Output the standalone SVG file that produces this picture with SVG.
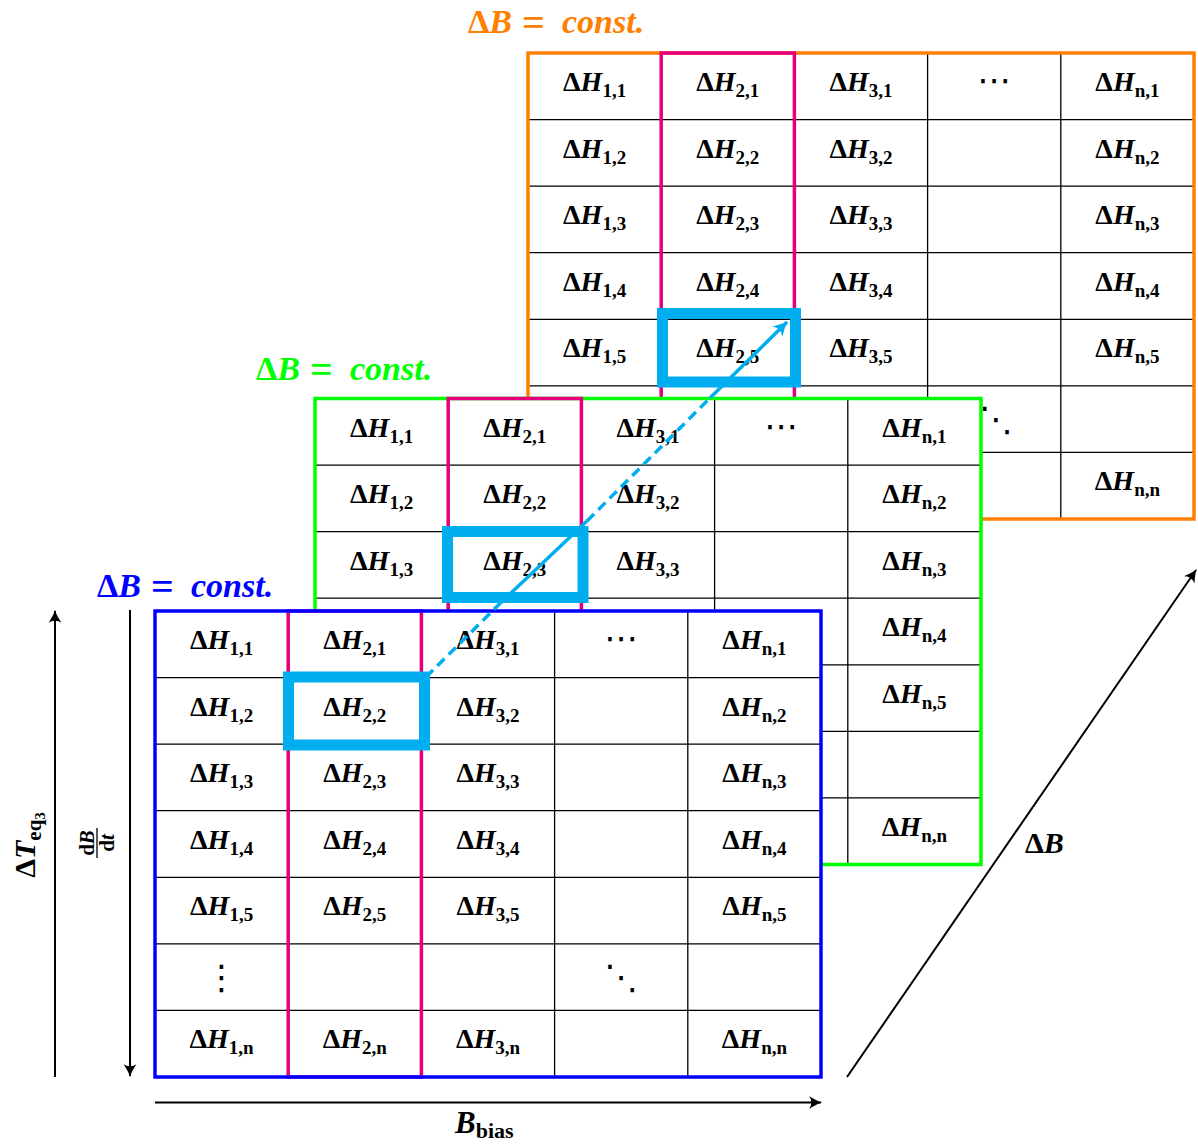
<svg xmlns="http://www.w3.org/2000/svg" width="1198" height="1144" viewBox="0 0 1198 1144">
<style>
.t{font-family:"Liberation Serif","DejaVu Serif",serif;font-weight:bold;font-size:28px;text-anchor:middle;fill:#000}
.i{font-style:italic}
.s{font-size:19px}
.d{font-family:"DejaVu Sans",sans-serif;font-weight:normal;font-size:34px;text-anchor:middle;fill:#000}
.bg{fill:#fff;stroke:none}
.in{stroke:#000;stroke-width:1.3;fill:none}
.mg{stroke:#E4007C;stroke-width:3.5;fill:none}
.hl{stroke:#00AEEF;stroke-width:11;fill:none}
.lb{font-family:"Liberation Serif","DejaVu Serif",serif;font-weight:bold;font-size:33px}
.hd{font-size:34px}
.eq{font-style:normal;font-size:40px}
.ax{stroke:#000;stroke-width:2;fill:none}
.cy{stroke:#00AEEF;stroke-width:3.5;fill:none}
.dash{stroke-dasharray:10 6}
</style>
<defs>
<marker id="ah" viewBox="-13 -7 15 14" refX="0" refY="0" markerWidth="15" markerHeight="14" orient="auto" markerUnits="userSpaceOnUse">
<path d="M1,0 C-3,-1 -8,-4 -12,-6.5 C-9,-3 -9,3 -12,6.5 C-8,4 -3,1 1,0 Z" fill="#000"/>
</marker>
<marker id="ahc" viewBox="-15 -8 17 16" refX="0" refY="0" markerWidth="17" markerHeight="16" orient="auto" markerUnits="userSpaceOnUse">
<path d="M1,0 C-4,-1.5 -9,-4.5 -14,-7.5 C-10,-3 -10,3 -14,7.5 C-9,4.5 -4,1.5 1,0 Z" fill="#00AEEF"/>
</marker>
<g id="lines">
<path class="in" d="M133.2,0V466M266.4,0V466M399.6,0V466M532.8,0V466M0,66.57H666M0,133.14H666M0,199.71H666M0,266.29H666M0,332.86H666M0,399.43H666"/>
</g>
</defs>

<!-- Orange layer -->
<g id="grid-orange" transform="translate(528,53)">
<rect class="bg" x="0" y="0" width="666" height="466"/>
<use href="#lines"/>
<rect x="0" y="0" width="666" height="466" fill="none" stroke="#FF8000" stroke-width="3.5"/>
<rect class="mg" x="133.2" y="0" width="133.2" height="466"/>
<g>
<text class="t" x="66.6" y="38">Δ<tspan class="i">H</tspan><tspan class="s" dy="6">1,1</tspan></text>
<text class="t" x="199.8" y="38">Δ<tspan class="i">H</tspan><tspan class="s" dy="6">2,1</tspan></text>
<text class="t" x="333" y="38">Δ<tspan class="i">H</tspan><tspan class="s" dy="6">3,1</tspan></text>
<text class="d" x="466.2" y="39">⋯</text>
<text class="t" x="599.4" y="38">Δ<tspan class="i">H</tspan><tspan class="s" dy="6">n,1</tspan></text>
<text class="t" x="66.6" y="104.57">Δ<tspan class="i">H</tspan><tspan class="s" dy="6">1,2</tspan></text>
<text class="t" x="199.8" y="104.57">Δ<tspan class="i">H</tspan><tspan class="s" dy="6">2,2</tspan></text>
<text class="t" x="333" y="104.57">Δ<tspan class="i">H</tspan><tspan class="s" dy="6">3,2</tspan></text>
<text class="t" x="599.4" y="104.57">Δ<tspan class="i">H</tspan><tspan class="s" dy="6">n,2</tspan></text>
<text class="t" x="66.6" y="171.14">Δ<tspan class="i">H</tspan><tspan class="s" dy="6">1,3</tspan></text>
<text class="t" x="199.8" y="171.14">Δ<tspan class="i">H</tspan><tspan class="s" dy="6">2,3</tspan></text>
<text class="t" x="333" y="171.14">Δ<tspan class="i">H</tspan><tspan class="s" dy="6">3,3</tspan></text>
<text class="t" x="599.4" y="171.14">Δ<tspan class="i">H</tspan><tspan class="s" dy="6">n,3</tspan></text>
<text class="t" x="66.6" y="237.71">Δ<tspan class="i">H</tspan><tspan class="s" dy="6">1,4</tspan></text>
<text class="t" x="199.8" y="237.71">Δ<tspan class="i">H</tspan><tspan class="s" dy="6">2,4</tspan></text>
<text class="t" x="333" y="237.71">Δ<tspan class="i">H</tspan><tspan class="s" dy="6">3,4</tspan></text>
<text class="t" x="599.4" y="237.71">Δ<tspan class="i">H</tspan><tspan class="s" dy="6">n,4</tspan></text>
<text class="t" x="66.6" y="304.29">Δ<tspan class="i">H</tspan><tspan class="s" dy="6">1,5</tspan></text>
<text class="t" x="199.8" y="304.29">Δ<tspan class="i">H</tspan><tspan class="s" dy="6">2,5</tspan></text>
<text class="t" x="333" y="304.29">Δ<tspan class="i">H</tspan><tspan class="s" dy="6">3,5</tspan></text>
<text class="t" x="599.4" y="304.29">Δ<tspan class="i">H</tspan><tspan class="s" dy="6">n,5</tspan></text>
<text class="d" x="468" y="378">⋱</text>
<text class="t" x="599.4" y="437.43">Δ<tspan class="i">H</tspan><tspan class="s" dy="6">n,n</tspan></text>
</g>
<rect class="hl" x="134.5" y="260.5" width="133" height="68.5"/>
</g>
<g id="label-orange"><text class="lb hd" x="468" y="33" fill="#FF8000">Δ<tspan class="i">B</tspan><tspan class="eq" x="522" y="36">=</tspan><tspan class="i" x="562" y="33">const.</tspan></text></g>

<!-- Green layer -->
<g id="grid-green" transform="translate(315,398.5)">
<rect class="bg" x="0" y="0" width="666" height="466"/>
<use href="#lines"/>
<rect x="0" y="0" width="666" height="466" fill="none" stroke="#00FF00" stroke-width="3.5"/>
<rect class="mg" x="133.2" y="0" width="133.2" height="466"/>
<g>
<text class="t" x="66.6" y="38">Δ<tspan class="i">H</tspan><tspan class="s" dy="6">1,1</tspan></text>
<text class="t" x="199.8" y="38">Δ<tspan class="i">H</tspan><tspan class="s" dy="6">2,1</tspan></text>
<text class="t" x="333" y="38">Δ<tspan class="i">H</tspan><tspan class="s" dy="6">3,1</tspan></text>
<text class="d" x="466.2" y="39">⋯</text>
<text class="t" x="599.4" y="38">Δ<tspan class="i">H</tspan><tspan class="s" dy="6">n,1</tspan></text>
<text class="t" x="66.6" y="104.57">Δ<tspan class="i">H</tspan><tspan class="s" dy="6">1,2</tspan></text>
<text class="t" x="199.8" y="104.57">Δ<tspan class="i">H</tspan><tspan class="s" dy="6">2,2</tspan></text>
<text class="t" x="333" y="104.57">Δ<tspan class="i">H</tspan><tspan class="s" dy="6">3,2</tspan></text>
<text class="t" x="599.4" y="104.57">Δ<tspan class="i">H</tspan><tspan class="s" dy="6">n,2</tspan></text>
<text class="t" x="66.6" y="171.14">Δ<tspan class="i">H</tspan><tspan class="s" dy="6">1,3</tspan></text>
<text class="t" x="199.8" y="171.14">Δ<tspan class="i">H</tspan><tspan class="s" dy="6">2,3</tspan></text>
<text class="t" x="333" y="171.14">Δ<tspan class="i">H</tspan><tspan class="s" dy="6">3,3</tspan></text>
<text class="t" x="599.4" y="171.14">Δ<tspan class="i">H</tspan><tspan class="s" dy="6">n,3</tspan></text>
<text class="t" x="599.4" y="237.71">Δ<tspan class="i">H</tspan><tspan class="s" dy="6">n,4</tspan></text>
<text class="t" x="599.4" y="304.29">Δ<tspan class="i">H</tspan><tspan class="s" dy="6">n,5</tspan></text>
<text class="t" x="599.4" y="437.43">Δ<tspan class="i">H</tspan><tspan class="s" dy="6">n,n</tspan></text>
</g>
<rect class="hl" x="132.5" y="133" width="135.5" height="66"/>
</g>
<g id="label-green"><text class="lb hd" x="256" y="380" fill="#00FF00">Δ<tspan class="i">B</tspan><tspan class="eq" x="310" y="383">=</tspan><tspan class="i" x="350" y="380">const.</tspan></text></g>

<!-- Blue layer -->
<g id="grid-blue" transform="translate(155,611)">
<rect class="bg" x="0" y="0" width="666" height="466"/>
<use href="#lines"/>
<rect class="mg" x="133.2" y="0" width="133.2" height="466"/>
<rect x="0" y="0" width="666" height="466" fill="none" stroke="#0000FF" stroke-width="3.5"/>
<g>
<text class="t" x="66.6" y="38">Δ<tspan class="i">H</tspan><tspan class="s" dy="6">1,1</tspan></text>
<text class="t" x="199.8" y="38">Δ<tspan class="i">H</tspan><tspan class="s" dy="6">2,1</tspan></text>
<text class="t" x="333" y="38">Δ<tspan class="i">H</tspan><tspan class="s" dy="6">3,1</tspan></text>
<text class="d" x="466.2" y="39">⋯</text>
<text class="t" x="599.4" y="38">Δ<tspan class="i">H</tspan><tspan class="s" dy="6">n,1</tspan></text>
<text class="t" x="66.6" y="104.57">Δ<tspan class="i">H</tspan><tspan class="s" dy="6">1,2</tspan></text>
<text class="t" x="199.8" y="104.57">Δ<tspan class="i">H</tspan><tspan class="s" dy="6">2,2</tspan></text>
<text class="t" x="333" y="104.57">Δ<tspan class="i">H</tspan><tspan class="s" dy="6">3,2</tspan></text>
<text class="t" x="599.4" y="104.57">Δ<tspan class="i">H</tspan><tspan class="s" dy="6">n,2</tspan></text>
<text class="t" x="66.6" y="171.14">Δ<tspan class="i">H</tspan><tspan class="s" dy="6">1,3</tspan></text>
<text class="t" x="199.8" y="171.14">Δ<tspan class="i">H</tspan><tspan class="s" dy="6">2,3</tspan></text>
<text class="t" x="333" y="171.14">Δ<tspan class="i">H</tspan><tspan class="s" dy="6">3,3</tspan></text>
<text class="t" x="599.4" y="171.14">Δ<tspan class="i">H</tspan><tspan class="s" dy="6">n,3</tspan></text>
<text class="t" x="66.6" y="237.71">Δ<tspan class="i">H</tspan><tspan class="s" dy="6">1,4</tspan></text>
<text class="t" x="199.8" y="237.71">Δ<tspan class="i">H</tspan><tspan class="s" dy="6">2,4</tspan></text>
<text class="t" x="333" y="237.71">Δ<tspan class="i">H</tspan><tspan class="s" dy="6">3,4</tspan></text>
<text class="t" x="599.4" y="237.71">Δ<tspan class="i">H</tspan><tspan class="s" dy="6">n,4</tspan></text>
<text class="t" x="66.6" y="304.29">Δ<tspan class="i">H</tspan><tspan class="s" dy="6">1,5</tspan></text>
<text class="t" x="199.8" y="304.29">Δ<tspan class="i">H</tspan><tspan class="s" dy="6">2,5</tspan></text>
<text class="t" x="333" y="304.29">Δ<tspan class="i">H</tspan><tspan class="s" dy="6">3,5</tspan></text>
<text class="t" x="599.4" y="304.29">Δ<tspan class="i">H</tspan><tspan class="s" dy="6">n,5</tspan></text>
<text class="d" x="66.6" y="378">⋮</text>
<text class="d" x="466.2" y="378">⋱</text>
<text class="t" x="66.6" y="437.43">Δ<tspan class="i">H</tspan><tspan class="s" dy="6">1,n</tspan></text>
<text class="t" x="199.8" y="437.43">Δ<tspan class="i">H</tspan><tspan class="s" dy="6">2,n</tspan></text>
<text class="t" x="333" y="437.43">Δ<tspan class="i">H</tspan><tspan class="s" dy="6">3,n</tspan></text>
<text class="t" x="599.4" y="437.43">Δ<tspan class="i">H</tspan><tspan class="s" dy="6">n,n</tspan></text>
</g>
<rect class="hl" x="133.5" y="66" width="136" height="68"/>
</g>
<g id="label-blue"><text class="lb hd" x="97" y="597" fill="#0000FF">Δ<tspan class="i">B</tspan><tspan class="eq" x="151" y="600">=</tspan><tspan class="i" x="191" y="597">const.</tspan></text></g>

<!-- Connectors -->
<g id="connectors">
<path class="cy dash" d="M426,677 L500,603.5"/>
<path class="cy" d="M500,603.5 L587,521"/>
<path class="cy dash" d="M587,521 L710,398"/>
<path class="cy" d="M710,398 L787,322" marker-end="url(#ahc)"/>
<path class="ax" d="M55,1077 V611" marker-end="url(#ah)"/>
<path class="ax" d="M130,610 V1076" marker-end="url(#ah)"/>
<path class="ax" d="M155,1102.5 H821" marker-end="url(#ah)"/>
<path class="ax" d="M847,1077 L1196,570" marker-end="url(#ah)"/>
</g>

<!-- Axis labels -->
<g id="axis-labels">
<text class="lb" style="font-size:30px" text-anchor="middle" transform="translate(35,845) rotate(-90)">Δ<tspan class="i">T</tspan><tspan style="font-size:21px" dy="6">eq</tspan><tspan style="font-size:15px" dy="4">3</tspan></text>
<g transform="translate(97,843) rotate(-90)">
<text class="lb" style="font-size:21px" text-anchor="middle" x="0" y="-3">d<tspan class="i">B</tspan></text>
<line x1="-15" y1="0" x2="15" y2="0" stroke="#000" stroke-width="1.3"/>
<text class="lb" style="font-size:21px" text-anchor="middle" x="0" y="17">d<tspan class="i">t</tspan></text>
</g>
<text class="lb" style="font-size:31px" x="455" y="1133"><tspan class="i">B</tspan><tspan style="font-size:22px" dy="5">bias</tspan></text>
<text class="lb" style="font-size:30px" x="1025" y="853">Δ<tspan class="i">B</tspan></text>
</g>
</svg>
